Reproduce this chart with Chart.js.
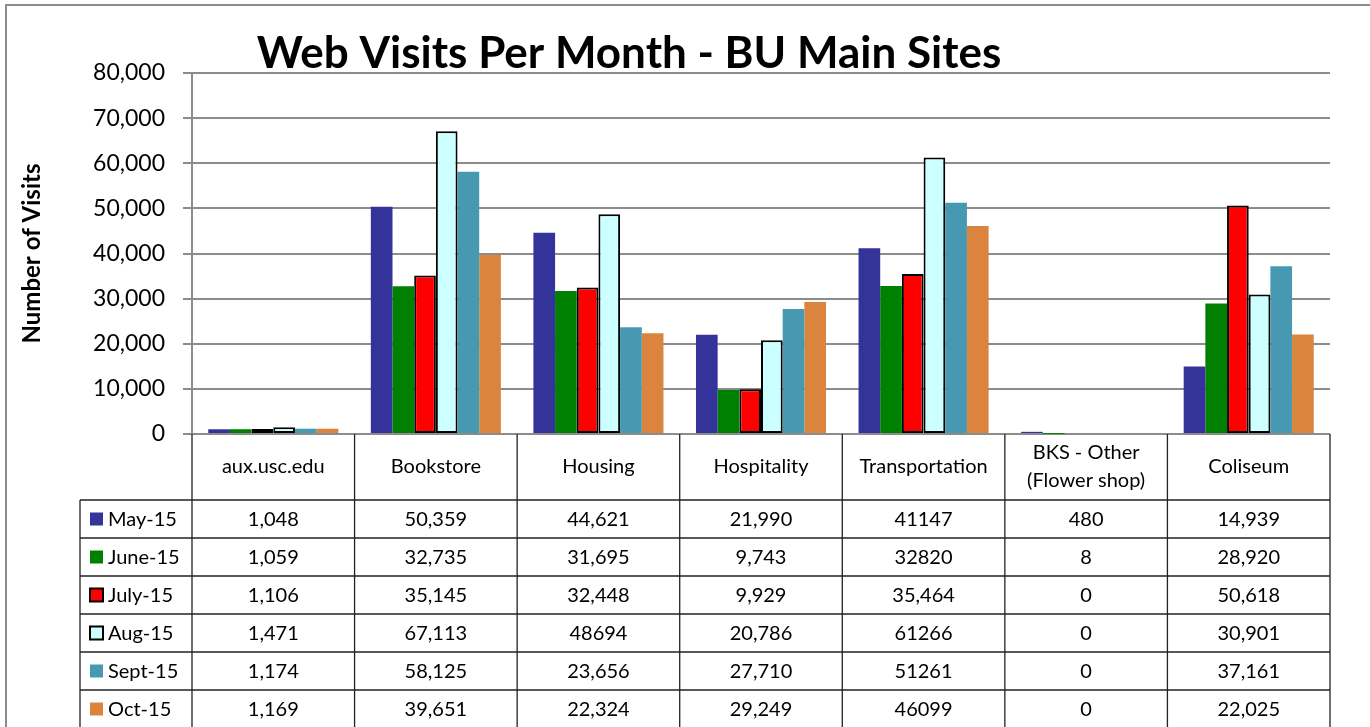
<!DOCTYPE html>
<html>
<head>
<title>Web Visits Per Month - BU Main Sites</title>
<script src="https://cdn.jsdelivr.net/npm/chart.js@4.4.1/dist/chart.umd.min.js"></script>
<style>
  html, body { margin: 0; padding: 0; background: #fff; }
  #wrap { width: 1370px; height: 727px; position: relative; }
</style>
</head>
<body>
<div id="wrap"><canvas id="visitsChart"></canvas></div>
<script>
// Sites = columns of the data table
const sites = ['aux.usc.edu', 'Bookstore', 'Housing', 'Hospitality', 'Transportation', ['BKS - Other', '(Flower shop)'], 'Coliseum'];
const months = ['May-15', 'June-15', 'July-15', 'Aug-15', 'Sept-15', 'Oct-15'];

// Cells as printed in the table (some have no thousands separator)
const may15  = ['1,048', '50,359', '44,621', '21,990', '41147', '480', '14,939'];
const june15 = ['1,059', '32,735', '31,695', '9,743', '32820', '8', '28,920'];
const july15 = ['1,106', '35,145', '32,448', '9,929', '35,464', '0', '50,618'];
const aug15  = ['1,471', '67,113', '48694', '20,786', '61266', '0', '30,901'];
const sept15 = ['1,174', '58,125', '23,656', '27,710', '51261', '0', '37,161'];
const oct15  = ['1,169', '39,651', '22,324', '29,249', '46099', '0', '22,025'];

const yTicks = [0, 10000, 20000, 30000, 40000, 50000, 60000, 70000, 80000];

const rows = [may15, june15, july15, aug15, sept15, oct15];
const fills = ['#333399', '#008000', '#ff0000', '#ccffff', '#4699b1', '#db843d'];
const outlined = [false, false, true, true, false, false];
const toNum = s => Number(s.replace(/,/g, ''));

Chart.defaults.font.family = 'Lato';
Chart.defaults.color = '#000';

// draws the title, the outer frame and the data table under the plot
const tablePlugin = {
  id: 'dataTable',
  beforeDraw(chart) {
    const ctx = chart.ctx;
    ctx.save();
    ctx.fillStyle = '#fff';
    ctx.fillRect(0, 0, chart.width, chart.height);
    ctx.restore();
  },
  afterDraw(chart) {
    const { ctx, chartArea, scales: { x } } = chart;
    const colW = chartArea.width / sites.length;
    const headTop = chartArea.bottom;
    const headH = 66, rowH = 38, keyLeft = 80;
    const bodyTop = headTop + headH;
    const bottom = chart.height + 5;

    ctx.save();

    // outer frame
    ctx.strokeStyle = '#8c8c8c';
    ctx.lineWidth = 2;
    ctx.strokeRect(6, 5, 1500, 900);

    // title
    ctx.fillStyle = '#000';
    ctx.font = 'bold 44px Lato';
    ctx.textAlign = 'center';
    ctx.textBaseline = 'alphabetic';
    ctx.fillText('Web Visits Per Month - BU Main Sites', 629, 68);

    // table lines
    ctx.strokeStyle = '#222';
    ctx.lineWidth = 1.3;
    ctx.beginPath();
    for (let r = 0; r <= rows.length; r++) {
      const y = bodyTop + r * rowH;
      ctx.moveTo(keyLeft, y);
      ctx.lineTo(chartArea.right, y);
    }
    ctx.moveTo(keyLeft, bodyTop);
    ctx.lineTo(keyLeft, bottom);
    for (let i = 0; i <= sites.length; i++) {
      const xx = chartArea.left + i * colW;
      ctx.moveTo(xx, headTop);
      ctx.lineTo(xx, bottom);
    }
    ctx.stroke();

    // header
    ctx.font = '20px Lato';
    ctx.textBaseline = 'middle';
    ctx.textAlign = 'center';
    sites.forEach((s, i) => {
      const cx = x.getPixelForValue(i);
      const lines = Array.isArray(s) ? s : [s];
      const y0 = headTop + headH / 2 - (lines.length - 1) * 14;
      lines.forEach((l, k) => ctx.fillText(l, cx, y0 + k * 28));
    });

    // rows with legend keys
    rows.forEach((row, r) => {
      const cy = bodyTop + r * rowH + rowH / 2;
      ctx.fillStyle = fills[r];
      ctx.fillRect(90, cy - 6.5, 13, 13);
      if (outlined[r]) {
        ctx.strokeStyle = '#000';
        ctx.lineWidth = 2;
        ctx.strokeRect(90, cy - 6.5, 13, 13);
      }
      ctx.fillStyle = '#000';
      ctx.textAlign = 'left';
      ctx.fillText(months[r], 108, cy + 1);
      ctx.textAlign = 'center';
      row.forEach((cell, i) => ctx.fillText(cell, x.getPixelForValue(i), cy + 1));
    });

    ctx.restore();
  }
};

new Chart(document.getElementById('visitsChart'), {
  type: 'bar',
  data: {
    labels: sites,
    datasets: rows.map((row, r) => ({
      label: months[r],
      data: row.map(toNum),
      backgroundColor: fills[r],
      borderColor: outlined[r] ? '#000' : fills[r],
      borderWidth: outlined[r] ? 2 : 0,
      borderSkipped: false,
      categoryPercentage: 0.8,
      barPercentage: 1.0
    }))
  },
  options: {
    responsive: true,
    maintainAspectRatio: false,
    animation: false,
    layout: { padding: { top: 73, bottom: 293, right: 40, left: 0 } },
    plugins: {
      legend: { display: false },
      title: { display: false },
      tooltip: { enabled: false }
    },
    scales: {
      x: { display: false },
      y: {
        min: 0,
        max: 80000,
        afterBuildTicks: s => { s.ticks = yTicks.map(v => ({ value: v })); },
        afterFit: s => { s.width = 192; },
        ticks: {
          padding: 18,
          font: { size: 23 },
          callback: v => v.toLocaleString('en-US')
        },
        grid: { color: '#8c8c8c', lineWidth: 2, tickLength: 9 },
        border: { color: '#8c8c8c', width: 2 },
        title: {
          display: true,
          text: 'Number of Visits',
          font: { size: 24, weight: 'bold' },
          padding: { top: 18, bottom: 0 }
        }
      }
    }
  },
  plugins: [tablePlugin]
});
</script>
</body>
</html>
